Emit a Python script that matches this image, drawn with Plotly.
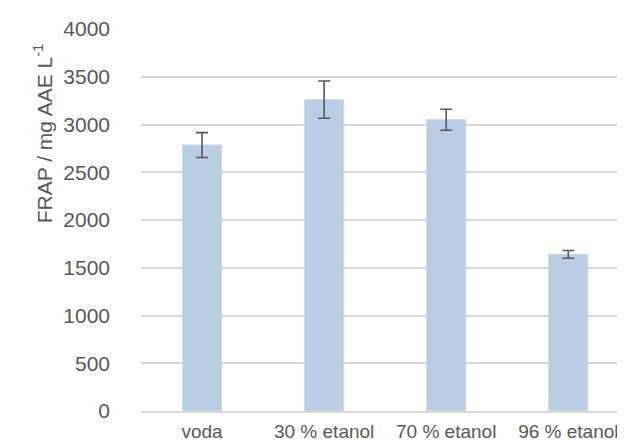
import plotly.graph_objects as go

categories = ["voda", "30 % etanol", "70 % etanol", "96 % etanol"]
values = [2785, 3260, 3050, 1640]
errors = [130, 195, 110, 40]
y_ticks = [0, 500, 1000, 1500, 2000, 2500, 3000, 3500, 4000]

font_family = "Liberation Sans, Arial, sans-serif"
text_color = "#595959"

fig = go.Figure()
fig.add_trace(go.Bar(
    x=list(range(len(categories))),
    y=values,
    width=0.32,
    marker=dict(color="#B9CDE5", line=dict(color="#C9D8EC", width=1)),
    error_y=dict(type="data", array=errors, visible=True,
                 color="#595959", thickness=1.6, width=6),
))

fig.update_layout(
    width=625, height=446,
    margin=dict(l=133, r=0, t=21, b=43),
    paper_bgcolor="white", plot_bgcolor="white",
    showlegend=False,
    font=dict(family=font_family, size=21, color=text_color),
    xaxis=dict(
        tickmode="array",
        tickvals=list(range(len(categories))),
        ticktext=categories,
        range=[-0.5, 3.53],
        showgrid=False, zeroline=False,
        showline=True, linecolor="#D9D9D9", linewidth=1.5,
        ticks="", ticklabelstandoff=2,
        ticklabeloverflow="allow",
        tickfont=dict(size=19),
    ),
    yaxis=dict(
        range=[0, 4000],
        tickmode="array",
        tickvals=y_ticks,
        showgrid=True, gridcolor="#D9D9D9", gridwidth=1.5,
        zeroline=False, showline=False,
        ticks="", ticklabelstandoff=30,
    ),
    annotations=[dict(
        text="FRAP / mg AAE L<sup>-1</sup>",
        xref="paper", yref="paper",
        x=-(133 - 35) / 492, y=0.727,
        xanchor="center", yanchor="middle",
        textangle=-90, showarrow=False,
        font=dict(family=font_family, size=21, color=text_color),
    )],
)

fig.write_html("out.html")
